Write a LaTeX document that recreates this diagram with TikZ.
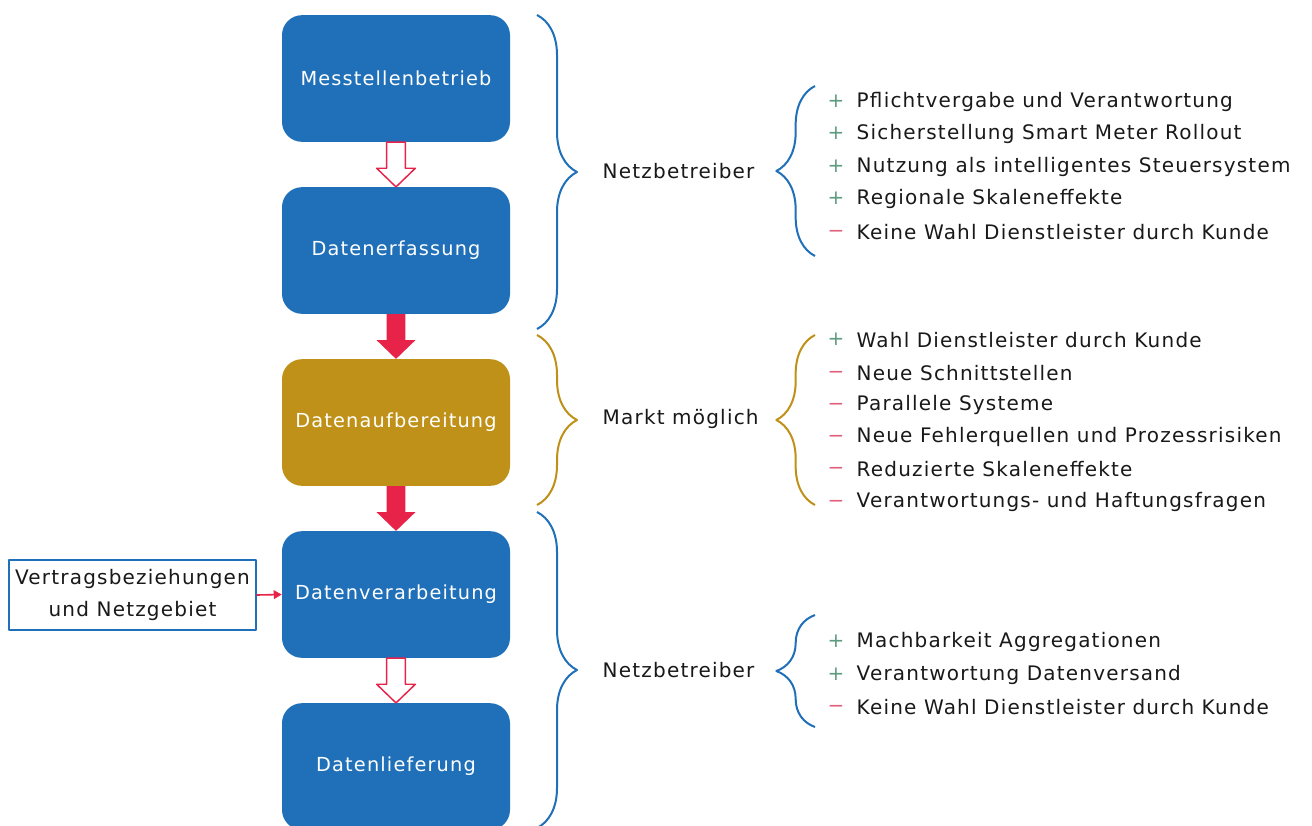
\documentclass[tikz,border=0pt]{standalone}
\usepackage{fontspec}
\setmainfont{DejaVu Sans}[LetterSpace=6]
\usepackage{xcolor}
\definecolor{nbblue}{HTML}{1F70B8}
\definecolor{mkgold}{HTML}{BF9118}
\definecolor{flred}{HTML}{E8234A}
\definecolor{procol}{HTML}{5E9C80}
\definecolor{concol}{HTML}{E2607E}
\usetikzlibrary{arrows.meta,calc,positioning,decorations.pathreplacing}
\tikzset{
  >={Triangle[length=6pt,width=6.5pt]},
  every picture/.style={line join=round},
  lbl/.style={font=\fontsize{15}{24}\selectfont, text=black!90},
  sign/.style={lbl, text height=11pt, text depth=3.5pt},
  stage/.style={rounded corners=15pt, minimum width=171pt, minimum height=95pt,
    inner sep=0pt, text=white, font=\fontsize{14.5}{18}\selectfont},
  bigbrace/.style={decorate, decoration={brace, amplitude=30pt}, line width=1.5pt},
  smallbrace/.style={decorate, decoration={brace, amplitude=29pt}, line width=1.5pt},
  hollow/.style={draw=flred, fill=white, line width=1.1pt},
  solid/.style={fill=flred},
}
\newcommand{\pro}{\textcolor{procol}{+}}
\newcommand{\con}{\textcolor{concol}{−}}
% block arrow from the bottom of one stage to the top of the next
\newcommand{\blockarrow}[3][]{%
  \path[#1] let \p1=(#2.south), \p2=(#3.north) in
    (\x1-7pt,\y1) -- (\x1+7pt,\y1) -- (\x1+7pt,\y2+14pt) -- (\x1+14.5pt,\y2+14pt)
    -- (\x2,\y2) -- (\x1-14.5pt,\y2+14pt) -- (\x1-7pt,\y2+14pt) -- cycle;}

\begin{document}
\begin{tikzpicture}[x=0.75pt, y=-0.75pt]
\clip (0,0) rectangle (1312,825);
\fill[white] (0,0) rectangle (1312,825);
% stages
\node[stage, fill=nbblue] (mess) at (396,78.5) {Messtellenbetrieb};
\node[stage, fill=nbblue] (erf) at (396,250.5) {Datenerfassung};
\node[stage, fill=mkgold] (aufb) at (396,422.5) {Datenaufbereitung};
\node[stage, fill=nbblue] (verarb) at (396,594.5) {Datenverarbeitung};
\node[stage, fill=nbblue] (liefer) at (396,766.5) {Datenlieferung};
\node[lbl, draw=nbblue, line width=1.2pt, fill=white, minimum width=185pt,
  minimum height=52.5pt, inner sep=0pt, align=center] (vertrag) at (132.5,595)
  {Vertragsbeziehungen\\und Netzgebiet};
\blockarrow[hollow]{mess}{erf}
\blockarrow[solid]{erf}{aufb}
\blockarrow[solid]{aufb}{verarb}
\blockarrow[hollow]{verarb}{liefer}
\draw[->, flred, line width=1.2pt] (vertrag.east) -- (verarb.west);
% roles
\coordinate (r1t) at (537,15);  \coordinate (r1b) at (537,329);
\coordinate (r2t) at (537,335); \coordinate (r2b) at (537,505);
\coordinate (r3t) at (537,512); \coordinate (r3b) at (537,828);
\draw[bigbrace, nbblue] (r1t) -- (r1b);
\draw[bigbrace, mkgold] (r2t) -- (r2b);
\draw[bigbrace, nbblue] (r3t) -- (r3b);
\node[lbl, anchor=west] (rolle1) at (598,171) {Netzbetreiber};
\node[lbl, anchor=west] (rolle2) at (598,419) {Markt möglich};
\node[lbl, anchor=west] (rolle3) at (598,670) {Netzbetreiber};
% pros and cons
\coordinate (e1t) at (815,86);  \coordinate (e1b) at (815,256);
\coordinate (e2t) at (815,335); \coordinate (e2b) at (815,505);
\coordinate (e3t) at (815,615); \coordinate (e3b) at (815,727);
\draw[smallbrace, nbblue] (e1b) -- (e1t);
\draw[smallbrace, mkgold] (e2b) -- (e2t);
\draw[smallbrace, nbblue] (e3b) -- (e3t);
\foreach \y/\s/\t in {102/\pro/Pflichtvergabe und Verantwortung,
    134/\pro/Sicherstellung Smart Meter Rollout,
    167/\pro/Nutzung als intelligentes Steuersystem,
    199/\pro/Regionale Skaleneffekte,
    232/\con/Keine Wahl Dienstleister durch Kunde,
    340/\pro/Wahl Dienstleister durch Kunde,
    373/\con/Neue Schnittstellen,
    405/\con/Parallele Systeme,
    437/\con/Neue Fehlerquellen und Prozessrisiken,
    469/\con/Reduzierte Skaleneffekte,
    502/\con/Verantwortungs- und Haftungsfragen,
    642/\pro/Machbarkeit Aggregationen,
    675/\pro/Verantwortung Datenversand,
    707/\con/Keine Wahl Dienstleister durch Kunde} {
  \node[sign] (s\y) at (836,\y) {\s};
  \node[lbl, anchor=west] (t\y) at (852,\y) {\t};
}
\end{tikzpicture}
\end{document}
